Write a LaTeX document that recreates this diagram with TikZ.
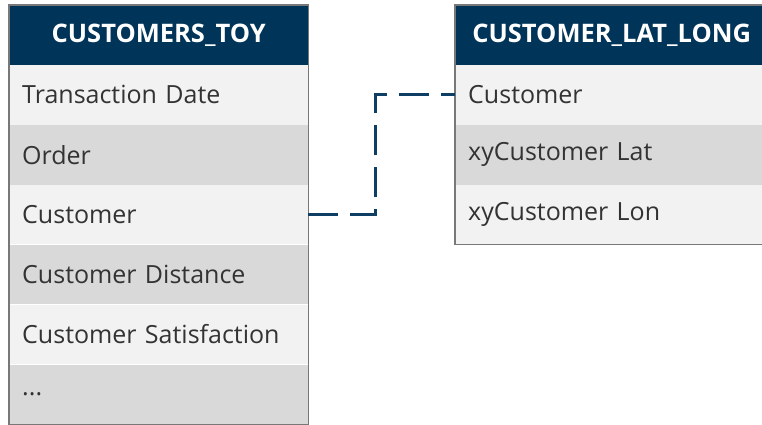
\documentclass[tikz,border=0pt]{standalone}
\usepackage{fontspec}
\setmainfont{Open Sans}
\usetikzlibrary{calc,positioning}
\definecolor{TblNavy}{RGB}{0,52,89}
\definecolor{RowLight}{RGB}{242,242,242}
\definecolor{RowDark}{RGB}{217,217,217}
\definecolor{TblEdge}{RGB}{120,120,120}
\definecolor{LinkBlue}{RGB}{14,62,100}

\begin{document}
\begin{tikzpicture}[x=1pt,y=-1pt,node distance=0pt,
  hdr/.style={fill=TblNavy,text=white,font=\fontsize{25.5}{30}\selectfont\bfseries,minimum height=59.5pt,inner sep=0pt,anchor=north west},
  rowA/.style={fill=RowLight,text width=#1,align=left,minimum height=59.5pt,inner xsep=13pt,inner ysep=0pt,text=black!80,font=\fontsize{25}{30}\selectfont},
  rowB/.style={rowA=#1,fill=RowDark},
  link/.style={LinkBlue,line width=3pt,dash pattern=on 30pt off 12pt}]
\useasboundingbox (0,0) rectangle (762,425);
% left table
\node[hdr,minimum width=299pt] (toyH) at (9,5) {CUSTOMERS\_TOY};
\node[rowA=273pt,below=of toyH] (toyDate) {Transaction Date};
\node[rowB=273pt,below=of toyDate] (toyOrder) {Order};
\node[rowA=273pt,below=of toyOrder] (toyCust) {Customer};
\node[rowB=273pt,below=of toyCust] (toyDist) {Customer Distance};
\node[rowA=273pt,below=of toyDist] (toySat) {Customer Satisfaction};
\node[rowB=273pt,below=of toySat] (toyMore) {...};
\draw[TblEdge,line width=1.5pt] (toyH.north west) rectangle (toyMore.south east);
% right table
\node[hdr,minimum width=313pt] (latH) at (455,5) {CUSTOMER\_LAT\_LONG};
\node[rowA=287pt,below=of latH] (latCust) {Customer};
\node[rowB=287pt,below=of latCust] (latLat) {xyCustomer Lat};
\node[rowA=287pt,below=of latLat] (latLon) {xyCustomer Lon};
\draw[TblEdge,line width=1.5pt] (latH.north west) rectangle (latLon.south east);
% key link
\coordinate (bend) at (375,150);
\draw[link] (toyCust.east) -| (bend) |- (latCust.west);
\end{tikzpicture}
\end{document}
